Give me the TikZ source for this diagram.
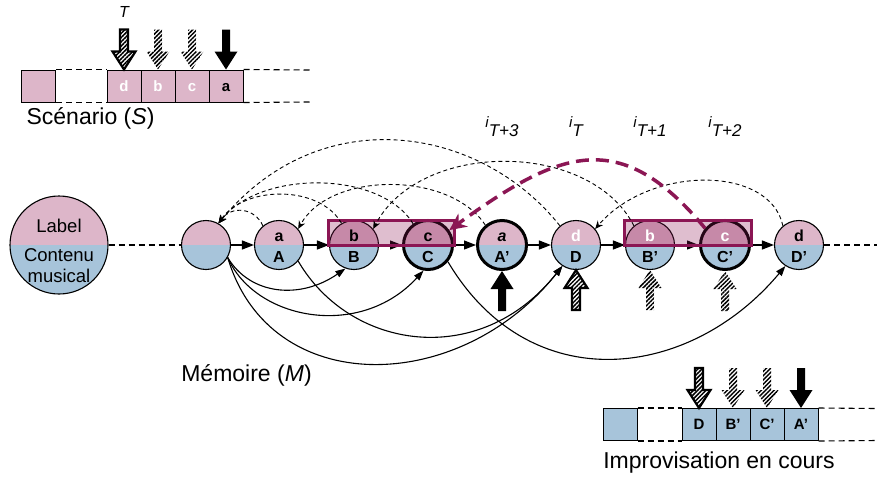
\documentclass[tikz,border=0pt]{standalone}
\usepackage{fontspec}
\setmainfont{Liberation Sans}
\usetikzlibrary{arrows.meta,patterns.meta}
\definecolor{rosa}{RGB}{221,182,201}
\definecolor{azul}{RGB}{167,196,218}
\definecolor{grana}{RGB}{139,22,84}

\begin{document}
\begin{tikzpicture}[x=1pt,y=1pt,
  mem/.style={circle,draw,line width=1.1pt,minimum size=49pt,inner sep=0pt,
    path picture={\fill[rosa] (path picture bounding box.west) rectangle (path picture bounding box.north east);
      \fill[azul] (path picture bounding box.west) rectangle (path picture bounding box.south east);}},
  memg/.style={mem,line width=3pt},
  lbl/.style={anchor=base,inner sep=0pt,font=\bfseries\fontsize{16}{16}\selectfont},
  caja/.style={draw,line width=1pt,minimum width=34pt,minimum height=32pt,inner sep=0pt,
    text height=10.5pt,text depth=0pt,font=\bfseries\fontsize{15}{15}\selectfont},
  txt/.style={anchor=base,inner sep=0pt,font=\fontsize{23}{23}\selectfont},
  sig/.style={line width=1.2pt,-{Triangle[length=12pt,width=9pt]}},
  salto/.style={line width=1.1pt,-{Triangle[length=10pt,width=7pt]}},
  sufijo/.style={line width=0.9pt,dash pattern=on 4pt off 3pt,-{Stealth[length=8pt,width=7pt]}},
  punteada/.style={line width=1.1pt,dash pattern=on 6pt off 4pt},
  rayada/.style={pattern={Lines[angle=45,distance=3pt,line width=1.5pt]},pattern color=black},
  pics/flecha/.style={code={\path[pic actions] (0,0) -- (-11.5,-18) -- (-4,-18) -- (-4,-40) -- (4,-40) -- (4,-18) -- (11.5,-18) -- cycle;}}
]
\useasboundingbox (0,0) rectangle (877,-477);

% Escenario
\node[caja,fill=rosa] (s0) at (38.5,-86) {};
\node[caja,fill=rosa,text=white] (sd) at (124,-86) {d};
\node[caja,fill=rosa,text=white] (sb) at (158,-86) {b};
\node[caja,fill=rosa,text=white] (sc) at (192,-86) {c};
\node[caja,fill=rosa] (sa) at (226,-86) {a};
\coordinate (sfin1) at (310,-70);
\coordinate (sfin2) at (310,-102);
\draw[punteada] (s0.north east) -- (sd.north west);
\draw[punteada] (s0.south east) -- (sd.south west);
\draw[punteada] (sa.north east) -- (sfin1);
\draw[punteada] (sa.south east) -- (sfin2);
\pic[rotate=180,rayada,draw,line width=2.2pt] at (sd.north) {flecha};
\pic[rotate=180,rayada] at (sb.north) {flecha};
\pic[rotate=180,rayada] at (sc.north) {flecha};
\pic[rotate=180,fill=black] at (sa.north) {flecha};
\node[font=\itshape\fontsize{16}{16}\selectfont,inner sep=0pt] (tT) at (124,-12) {T};
\node[txt] (tS) at (90.5,-124) {Scénario (\textit{S})};

% Memoria
\node[mem,minimum size=98pt] (leg) at (59,-245) {};
\node[anchor=base,inner sep=0pt,font=\fontsize{18.5}{18.5}\selectfont] (legL) at (59,-232) {Label};
\node[anchor=base,inner sep=0pt,font=\fontsize{18.5}{18.5}\selectfont] (legC) at (59,-261) {Contenu};
\node[anchor=base,inner sep=0pt,font=\fontsize{18.5}{18.5}\selectfont] (legM) at (59,-282) {musical};
\foreach \nom/\x/\est in {n0/206/mem, A/279/mem, B/354/mem, C/428/memg, Ap/502/memg,
    D/576/mem, Bp/650/mem, Cp/725/memg, Dp/799/mem}
  \node[\est] (\nom) at (\x,-245) {};
\foreach \a/\b in {n0/A, A/B, B/C, C/Ap, Ap/D, D/Bp, Bp/Cp, Cp/Dp}
  \draw[sig] (\a) -- (\b);
\coordinate (finM) at (877,-245);
\draw[punteada] (leg) -- (n0);
\draw[punteada] (Dp) -- (finM);
\draw[line width=3pt,draw=grana,fill=grana,fill opacity=0.28] (B.west) rectangle ([yshift=25pt]C.east);
\draw[line width=3pt,draw=grana,fill=grana,fill opacity=0.28] (Bp.west) rectangle ([yshift=25pt]Cp.east);
\foreach \nom/\x/\hau/\bas in {A/279/a/A, B/354/b/B, C/428/c/C, Ap/502/{\itshape a}/A',
    D/576/{\color{white}d}/D, Bp/650/{\color{white}b}/B', Cp/725/{\color{white}c}/C', Dp/799/d/D'}{
  \node[lbl] (\nom-h) at (\x,-241.5) {\hau};
  \node[lbl] (\nom-b) at (\x,-262.5) {\bas};
}
% enlaces de sufijo
\draw[sufijo] (A.130) .. controls (255,-208) and (232,-205) .. (n0.60);
\draw[sufijo] (B.120) .. controls (320,-185) and (245,-185) .. (n0.60);
\draw[sufijo] (C.125) .. controls (380,-170) and (260,-170) .. (n0.60);
\draw[sufijo] (D.130) .. controls (480,-125) and (320,-100) .. (n0.60);
\draw[sufijo] (Ap.130) .. controls (450,-171) and (330,-171) .. (A.40);
\draw[sufijo] (Bp.130) .. controls (590,-140) and (420,-140) .. (B.40);
\draw[sufijo] (Dp.130) .. controls (770,-165) and (650,-165) .. (D.40);
\draw[line width=3.5pt,grana,dash pattern=on 13pt off 7pt,-{Stealth[length=17pt,width=16pt]}]
  (Cp.140) .. controls (620,-126) and (560,-150) .. (C.35);
% transiciones
\draw[salto] (n0.-30) .. controls (250,-295) and (300,-300) .. (B.250);
\draw[salto] (n0.-30) .. controls (255,-320) and (360,-340) .. (C.260);
\draw[salto] (n0.-30) .. controls (270,-400) and (460,-395) .. (D.237);
\draw[salto] (A.-40) .. controls (350,-350) and (480,-370) .. (D.237);
\draw[salto] (C.-40) .. controls (530,-400) and (690,-380) .. (Dp.237);
\pic[fill=black] at (Ap.south) {flecha};
\pic[rayada,draw,line width=2.2pt] at (D.south) {flecha};
\pic[rayada] at (Bp.south) {flecha};
\pic[rayada] at (Cp.south) {flecha};
\foreach \x/\sub/\k in {502/T+3/1, 576/T/2, 650/T+1/3, 725/T+2/4}
  \node[anchor=base,inner sep=0pt,font=\itshape\fontsize{15}{15}\selectfont] (ind\k) at (\x,-127)
    {i\raisebox{-9pt}{\fontsize{17}{17}\selectfont\sub}};
\node[txt] (tM) at (246.5,-381) {Mémoire (\textit{M})};

% Improvisacion
\node[caja,fill=azul] (i0) at (620,-424.5) {};
\node[caja,fill=azul] (iD) at (699,-424.5) {D};
\node[caja,fill=azul] (iB) at (733,-424.5) {B'};
\node[caja,fill=azul] (iC) at (767,-424.5) {C'};
\node[caja,fill=azul] (iA) at (801,-424.5) {A'};
\coordinate (ifin1) at (877,-408.5);
\coordinate (ifin2) at (877,-440.5);
\draw[punteada] (i0.north east) -- (iD.north west);
\draw[punteada] (i0.south east) -- (iD.south west);
\draw[punteada] (iA.north east) -- (ifin1);
\draw[punteada] (iA.south east) -- (ifin2);
\pic[rotate=180,rayada,draw,line width=2.2pt] at (iD.north) {flecha};
\pic[rotate=180,rayada] at (iB.north) {flecha};
\pic[rotate=180,rayada] at (iC.north) {flecha};
\pic[rotate=180,fill=black] at (iA.north) {flecha};
\node[txt] (tI) at (719,-468) {Improvisation en cours};
\end{tikzpicture}
\end{document}
